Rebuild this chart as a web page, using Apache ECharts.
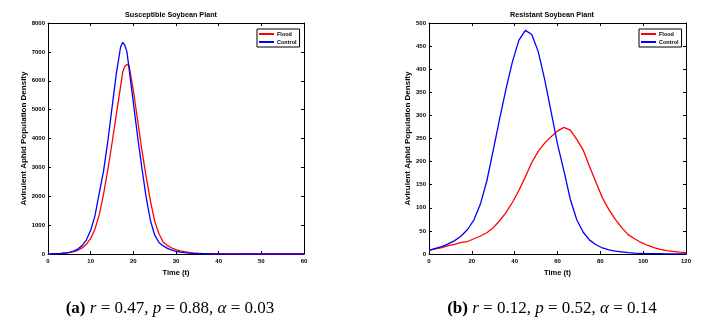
<!DOCTYPE html>
<html>
<head>
<meta charset="utf-8">
<script src="https://cdn.jsdelivr.net/npm/echarts@6/dist/echarts.min.js"></script>
<style>
  html, body { margin: 0; padding: 0; background: #fff; }
  #aphidChart { width: 709px; height: 322px; }
</style>
</head>
<body>
<div id="aphidChart"></div>
<script>

// (a) susceptible soybean plant, time 0..60
var susTime = [0, 1, 2, 3, 4, 5, 6, 7, 8, 9, 10, 11, 12, 13, 14, 15, 16, 17, 17.5, 18, 18.5,
  19, 20, 21, 22, 23, 24, 25, 26, 27, 28, 29, 30, 31, 32, 33, 34, 35, 36, 37, 38, 39, 40,
  41, 42, 43, 44, 45, 46, 47, 48, 49, 50, 51, 52, 53, 54, 55, 56, 57, 58, 59, 60];
var susFlood = [5, 8, 12, 19, 31, 50, 80, 128, 210, 337, 540, 860, 1345, 2053, 2900, 3835, 4815, 5790, 6290, 6500, 6565,
  6520, 5665, 4635, 3600, 2680, 1840, 1140, 700, 415, 290, 207, 150, 110, 80, 58, 42, 30, 22, 16, 11, 8, 6,
  4, 3, 2, 1.5, 1, 1, 0.5, 0.5, 0.5, 0, 0, 0, 0, 0, 0, 0, 0, 0, 0, 0];
var susControl = [5, 8, 12, 20, 34, 58, 100, 170, 290, 490, 820, 1320, 2100, 2850, 3880, 5060, 6230, 7160, 7330, 7230, 7000,
  6420, 5240, 4070, 2980, 1970, 1160, 660, 400, 280, 195, 135, 95, 68, 48, 33, 23, 16, 11, 8, 5, 4, 3,
  2, 1.5, 1, 1, 0.5, 0.5, 0.5, 0, 0, 0, 0, 0, 0, 0, 0, 0, 0, 0, 0, 0];

// (b) resistant soybean plant, time 0..120
var resTime = [0, 3, 6, 9, 12, 15, 18, 21, 24, 27, 30, 33, 36, 39, 42, 45, 48, 51, 54, 57, 60,
  63, 66, 69, 72, 75, 78, 81, 84, 87, 90, 93, 96, 99, 102, 105, 108, 111, 114, 117, 120];
var resFlood = [8, 11, 14, 18, 21, 25, 27, 33, 39, 46, 57, 72, 90, 112, 138, 167, 198, 222, 240, 254, 266,
  274, 268, 248, 225, 189, 155, 121, 96, 75, 57, 42, 33, 25, 19, 14, 10, 7.5, 5.5, 4, 3];
var resControl = [8, 12, 16, 22, 29, 39, 53, 74, 108, 158, 225, 293, 358, 417, 463, 484, 475, 438, 378, 308, 238,
  180, 118, 74, 47, 30, 20, 13, 9, 6, 4.5, 3, 2, 1.5, 1, 0.8, 0.6, 0.4, 0.3, 0.2, 0.15];

var seriesNames = ['Flood', 'Control'];
var seriesColors = ['#ff0000', '#0000ff'];

var titles = ['Susceptible Soybean Plant', 'Resistant Soybean Plant'];
var yAxisName = 'Avirulent Aphid Population Density';
var xAxisName = 'Time (t)';

document.addEventListener("DOMContentLoaded", function() {

  var chartDom = document.getElementById('aphidChart');
  var aphidChart = echarts.init(chartDom);
  var option;

  var axisFont = 'Liberation Sans';

  function pairs(t, v) {
    return t.map(function(x, i) { return [x, v[i]]; });
  }

  function boxAxes(gridIndex, min, max, interval, isX, named) {
    // matlab style box: labelled axis plus a bare mirror axis, ticks inward
    var base = {
      gridIndex: gridIndex,
      type: 'value',
      min: min,
      max: max,
      interval: interval,
      splitLine: { show: false },
      axisLine: { show: true, onZero: false, lineStyle: { color: '#000', width: 1 } },
      axisTick: { show: true, inside: true, length: 3, lineStyle: { color: '#000' } }
    };
    var main = Object.assign({}, base, {
      position: isX ? 'bottom' : 'left',
      axisLabel: {
        color: '#000',
        fontFamily: axisFont,
        fontWeight: 'bold',
        fontSize: 6,
        margin: isX ? 4 : 3,
        formatter: function(v) { return String(v); }
      }
    });
    if (named) {
      main.name = isX ? xAxisName : yAxisName;
      main.nameLocation = 'middle';
      main.nameGap = isX ? 13 : 16;
      main.nameTextStyle = {
        color: '#000',
        fontFamily: axisFont,
        fontWeight: 'bold',
        fontSize: isX ? 7.5 : 8
      };
    }
    var mirror = Object.assign({}, base, {
      position: isX ? 'top' : 'right',
      axisLabel: { show: false }
    });
    return [main, mirror];
  }

  var xA = boxAxes(0, 0, 60, 10, true, true);
  var yA = boxAxes(0, 0, 8000, 1000, false, true);
  var xB = boxAxes(1, 0, 120, 20, true, true);
  var yB = boxAxes(1, 0, 500, 50, false, true);

  function lineSeries(name, color, xi, yi, data) {
    return {
      name: name,
      type: 'line',
      xAxisIndex: xi,
      yAxisIndex: yi,
      data: data,
      showSymbol: false,
      symbol: 'none',
      smooth: false,
      lineStyle: { color: color, width: 1.3 },
      itemStyle: { color: color },
      emphasis: { disabled: true },
      silent: true
    };
  }

  var legendCommon = {
    orient: 'vertical',
    icon: 'rect',
    itemWidth: 15,
    itemHeight: 2,
    itemGap: 2,
    padding: [2, 3, 2, 2],
    borderColor: '#000',
    borderWidth: 1,
    backgroundColor: '#fff',
    selectedMode: false,
    textStyle: {
      color: '#000',
      fontFamily: axisFont,
      fontWeight: 'bold',
      fontSize: 5.5,
      padding: [0, 0, 0, -2]
    },
    data: seriesNames
  };

  var captionStyle = {
    fontFamily: 'Liberation Serif',
    fontSize: 17,
    fontWeight: 'normal',
    color: '#000',
    rich: {
      b: { fontFamily: 'Liberation Serif', fontSize: 17, fontWeight: 'bold', color: '#000' },
      i: { fontFamily: 'Liberation Serif', fontSize: 17, fontWeight: 'normal', fontStyle: 'italic', color: '#000' },
      n: { fontFamily: 'Liberation Serif', fontSize: 17, fontWeight: 'normal', color: '#000' }
    }
  };

  var titleStyle = { fontFamily: axisFont, fontWeight: 'bold', fontSize: 7.2, color: '#000' };

  option = {
    animation: false,
    backgroundColor: '#fff',
    title: [
      { text: titles[0], left: 166, top: 7, textAlign: 'center', textStyle: titleStyle },
      { text: titles[1], left: 547, top: 7, textAlign: 'center', textStyle: titleStyle },
      {
        text: '{b|(a)} {i|r} {n|= 0.47,} {i|p} {n|= 0.88,} {i|α} {n|= 0.03}',
        left: 165,
        top: 295,
        textAlign: 'center',
        textStyle: captionStyle
      },
      {
        text: '{b|(b)} {i|r} {n|= 0.12,} {i|p} {n|= 0.52,} {i|α} {n|= 0.14}',
        left: 547,
        top: 295,
        textAlign: 'center',
        textStyle: captionStyle
      }
    ],
    legend: [
      Object.assign({}, legendCommon, { left: 257, top: 29 }),
      Object.assign({}, legendCommon, { left: 639, top: 29 })
    ],
    grid: [
      { left: 48, top: 23, width: 256, height: 231, show: false },
      { left: 429, top: 23, width: 257, height: 231, show: false }
    ],
    xAxis: [xA[0], xA[1], xB[0], xB[1]],
    yAxis: [yA[0], yA[1], yB[0], yB[1]],
    series: [
      lineSeries(seriesNames[0], seriesColors[0], 0, 0, pairs(susTime, susFlood)),
      lineSeries(seriesNames[1], seriesColors[1], 0, 0, pairs(susTime, susControl)),
      lineSeries(seriesNames[0], seriesColors[0], 2, 2, pairs(resTime, resFlood)),
      lineSeries(seriesNames[1], seriesColors[1], 2, 2, pairs(resTime, resControl))
    ]
  };

  aphidChart.setOption(option);

});
</script>
</body>
</html>
